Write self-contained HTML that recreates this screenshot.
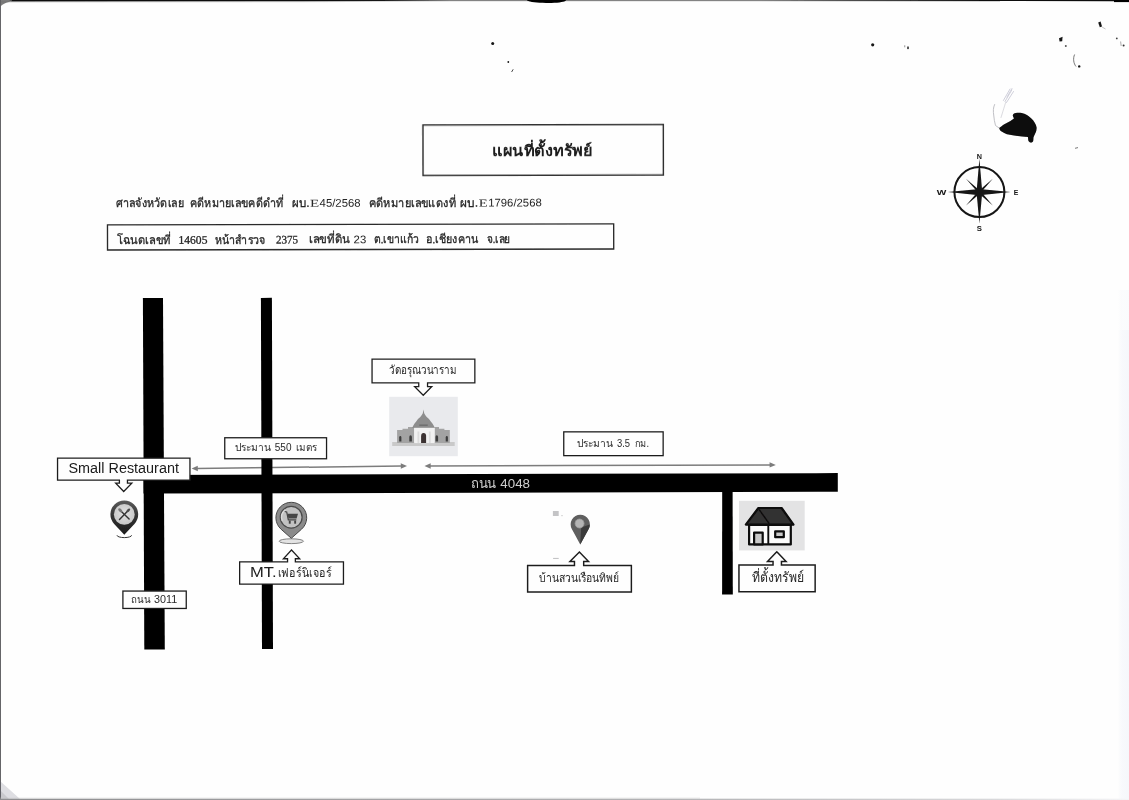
<!DOCTYPE html>
<html lang="th">
<head>
<meta charset="utf-8">
<title>แผนที่ตั้งทรัพย์</title>
<style>
html,body{margin:0;padding:0}
body{width:1129px;height:800px;overflow:hidden;background:#fefefe;font-family:"Liberation Sans",sans-serif;position:relative}
svg{position:absolute;left:0;top:0;display:block}
text{font-family:"Liberation Sans",sans-serif}
.serif{font-family:"Liberation Serif",serif}
</style>
</head>
<body>
<svg width="1129" height="800" viewBox="0 0 1129 800">
<defs><filter id="soft" x="0" y="0" width="1129" height="800" filterUnits="userSpaceOnUse"><feGaussianBlur stdDeviation="0.55"/></filter></defs>
<g filter="url(#soft)">
<g transform="translate(191.6 468.6) rotate(-0.718)" fill="#7c7c7c" stroke="none"><rect x="5.2" y="-0.75" width="205.01692134091977" height="1.5"/><path d="M215.41692134091974 0L209.21692134091975 -2.7V2.7Z"/><path d="M0 0L6.2 -2.7V2.7Z"/></g><g transform="translate(424.5 466.0) rotate(-0.179)" fill="#7c7c7c" stroke="none"><rect x="5.2" y="-0.75" width="340.9017221705581" height="1.5"/><path d="M351.3017221705581 0L345.1017221705581 -2.7V2.7Z"/><path d="M0 0L6.2 -2.7V2.7Z"/></g>
<g fill="#030303">
<path d="M142.9 298.1L163 298L164.8 649.5L144.3 649.6Z"/>
<path d="M260.9 297.9L271.9 297.8L273 649L262 649.1Z"/>
<path d="M143.5 475L837.8 473.1V491.8L143.5 493.6Z"/>
<path d="M722.2 485H732.6L732.8 594.5H722.1Z"/>
</g>
<g transform="rotate(-0.12 543.2 150)">
<rect x="423" y="124.74" width="240.35" height="50.52" fill="none" stroke="#2a2a2a" stroke-width="1.4"/>
<text x="492.40" y="155.60" font-size="15.5" font-weight="bold" textLength="100.00" lengthAdjust="spacingAndGlyphs" class="serif" fill="#1c1c1c">แผนที่ตั้งทรัพย์</text>
</g>
<g transform="rotate(-0.12 360.6 237)">
<rect x="107.5" y="224.4" width="506.2" height="25.1" fill="none" stroke="#2a2a2a" stroke-width="1.35"/>
<text x="117.40" y="243.30" font-size="12" textLength="53.10" lengthAdjust="spacingAndGlyphs" class="serif" fill="#262626" stroke="#262626" stroke-width=".3">โฉนดเลขที่</text>
<text x="178.50" y="243.30" font-size="11.6" textLength="28.90" lengthAdjust="spacingAndGlyphs" class="serif" fill="#262626"  stroke="#262626" stroke-width=".3">14605</text>
<text x="214.80" y="243.30" font-size="12" textLength="50.50" lengthAdjust="spacingAndGlyphs" class="serif" fill="#262626" stroke="#262626" stroke-width=".3">หน้าสำรวจ</text>
<text x="275.90" y="243.30" font-size="11.6" textLength="22.20" lengthAdjust="spacingAndGlyphs" class="serif" fill="#262626"  stroke="#262626" stroke-width=".3">2375</text>
<text x="308.80" y="243.30" font-size="12" textLength="41.00" lengthAdjust="spacingAndGlyphs" class="serif" fill="#262626" stroke="#262626" stroke-width=".3">เลขที่ดิน</text>
<text x="353.60" y="243.30" font-size="11" textLength="12.65" lengthAdjust="spacingAndGlyphs" fill="#262626" >23</text>
<text x="373.70" y="243.30" font-size="12" textLength="45.20" lengthAdjust="spacingAndGlyphs" class="serif" fill="#262626" stroke="#262626" stroke-width=".3">ต.เขาแก้ว</text>
<text x="426.30" y="243.30" font-size="12" textLength="52.00" lengthAdjust="spacingAndGlyphs" class="serif" fill="#262626" stroke="#262626" stroke-width=".3">อ.เชียงคาน</text>
<text x="486.70" y="243.30" font-size="12" textLength="23.70" lengthAdjust="spacingAndGlyphs" class="serif" fill="#262626" stroke="#262626" stroke-width=".3">จ.เลย</text>
</g>
<g transform="rotate(-0.12 329 206.8)">
<text x="115.60" y="206.80" font-size="12" textLength="68.20" lengthAdjust="spacingAndGlyphs" class="serif" fill="#262626" stroke="#262626" stroke-width=".3">ศาลจังหวัดเลย</text>
<text x="190.00" y="206.80" font-size="12" textLength="93.50" lengthAdjust="spacingAndGlyphs" class="serif" fill="#262626" stroke="#262626" stroke-width=".3">คดีหมายเลขคดีดำที่</text>
<text x="292.10" y="206.80" font-size="12" textLength="17.30" lengthAdjust="spacingAndGlyphs" class="serif" fill="#262626" stroke="#262626" stroke-width=".3">ผบ.</text>
<text x="310.10" y="206.80" font-size="10.5" textLength="9.20" lengthAdjust="spacingAndGlyphs" class="serif" fill="#262626" >E</text>
<text x="319.60" y="206.80" font-size="11.2" textLength="41.00" lengthAdjust="spacingAndGlyphs" fill="#262626" >45/2568</text>
<text x="368.75" y="206.80" font-size="12" textLength="87.10" lengthAdjust="spacingAndGlyphs" class="serif" fill="#262626" stroke="#262626" stroke-width=".3">คดีหมายเลขแดงที่</text>
<text x="460.20" y="206.80" font-size="12" textLength="17.80" lengthAdjust="spacingAndGlyphs" class="serif" fill="#262626" stroke="#262626" stroke-width=".3">ผบ.</text>
<text x="478.80" y="206.80" font-size="10.5" textLength="9.00" lengthAdjust="spacingAndGlyphs" class="serif" fill="#262626" >E</text>
<text x="488.20" y="206.80" font-size="11.2" textLength="53.60" lengthAdjust="spacingAndGlyphs" fill="#262626" >1796/2568</text>
</g>
<text x="470.90" y="487.70" font-size="13.6" textLength="25.20" lengthAdjust="spacingAndGlyphs" fill="#cfcfcf">ถนน</text>
<text x="500.30" y="487.70" font-size="13.6" textLength="29.70" lengthAdjust="spacingAndGlyphs" fill="#cfcfcf" >4048</text>
<path d="M57.55 458.15H189.95V480.05H127.44999999999999V483.1H131.79999999999998L123.7 491.525L115.7 483.1H119.4V480.05H57.55Z" fill="#fefefe" stroke="#1e1e1e" stroke-width="1.3" stroke-linejoin="miter"/>
<text x="68.50" y="472.75" font-size="14.9" textLength="110.40" lengthAdjust="spacingAndGlyphs" fill="#1a1a1a" >Small Restaurant</text>
<path d="M372.04999999999995 359.15H474.85V382.85H427.55V386.7H431.7L423.25 395.22499999999997L414.7 386.7H418.75V382.85H372.04999999999995Z" fill="#fefefe" stroke="#1e1e1e" stroke-width="1.3" stroke-linejoin="miter"/>
<text x="388.90" y="373.90" font-size="12" textLength="67.50" lengthAdjust="spacingAndGlyphs" fill="#262626">วัดอรุณวนาราม</text>
<rect x="122.90" y="591.05" width="63.35" height="17.40" fill="#fefefe" stroke="#1e1e1e" stroke-width="1.3"/>
<text x="131.25" y="602.75" font-size="10" textLength="19.40" lengthAdjust="spacingAndGlyphs" fill="#2a2a2a">ถนน</text>
<text x="154.00" y="602.75" font-size="10" textLength="23.20" lengthAdjust="spacingAndGlyphs" fill="#2a2a2a" >3011</text>
<rect x="224.75" y="437.75" width="101.80" height="21.00" fill="#fefefe" stroke="#1e1e1e" stroke-width="1.3"/>
<text x="234.80" y="451.30" font-size="10" textLength="36.70" lengthAdjust="spacingAndGlyphs" fill="#2a2a2a">ประมาน</text>
<text x="274.80" y="451.30" font-size="10" textLength="16.70" lengthAdjust="spacingAndGlyphs" fill="#2a2a2a" >550</text>
<text x="295.90" y="451.30" font-size="10" textLength="20.70" lengthAdjust="spacingAndGlyphs" fill="#2a2a2a">เมตร</text>
<rect x="563.75" y="431.85" width="99.40" height="23.80" fill="#fefefe" stroke="#1e1e1e" stroke-width="1.3"/>
<text x="576.60" y="446.70" font-size="10" textLength="36.80" lengthAdjust="spacingAndGlyphs" fill="#2a2a2a">ประมาน</text>
<text x="617.00" y="446.70" font-size="10" textLength="13.10" lengthAdjust="spacingAndGlyphs" fill="#2a2a2a" >3.5</text>
<text x="634.50" y="446.70" font-size="10" textLength="14.60" lengthAdjust="spacingAndGlyphs" fill="#2a2a2a">กม.</text>
<path d="M239.65 561.9H287.54999999999995V558.75H283.40000000000003L291.5 549.975L299.7 558.75H295.35V561.9H343.45000000000005V584.1H239.65Z" fill="#fefefe" stroke="#1e1e1e" stroke-width="1.3" stroke-linejoin="miter"/>
<text x="249.90" y="577.25" font-size="15" textLength="26.70" lengthAdjust="spacingAndGlyphs" fill="#1a1a1a" >MT.</text>
<text x="277.75" y="577.25" font-size="12.5" textLength="53.80" lengthAdjust="spacingAndGlyphs" fill="#262626">เฟอร์นิเจอร์</text>
<path d="M527.625 565.475H574.475V561.5H569.95L579.4 552.0875L588.55 561.5H583.675V565.475H631.375V592.025H527.625Z" fill="#fefefe" stroke="#1e1e1e" stroke-width="1.45" stroke-linejoin="miter"/>
<text x="538.75" y="581.90" font-size="12" textLength="80.30" lengthAdjust="spacingAndGlyphs" fill="#262626">บ้านสวนเรือนทิพย์</text>
<path d="M738.95 565.05H773.05V561.6H767.5L776.8 551.725L786.1 561.6H781.45V565.05H815.15V591.75H738.95Z" fill="#fefefe" stroke="#1e1e1e" stroke-width="1.5" stroke-linejoin="miter"/>
<text x="752.20" y="581.90" font-size="14" textLength="51.50" lengthAdjust="spacingAndGlyphs" fill="#262626">ที่ตั้งทรัพย์</text>
<defs><linearGradient id="gp1" x1="0" y1="0" x2="0" y2="1"><stop offset="0" stop-color="#5c5c5c"/><stop offset=".45" stop-color="#333"/><stop offset="1" stop-color="#1c1c1c"/></linearGradient><radialGradient id="gp1i" cx=".5" cy=".45" r=".6"><stop offset="0" stop-color="#e2e2e2"/><stop offset="1" stop-color="#c4c4c4"/></radialGradient></defs>
<path d="M117.0 535.3000000000001A7.3 2.3 0 0 0 131.6 535.3000000000001" fill="none" stroke="#333" stroke-width="1"/>
<path d="M124.30 534.70L134.43 523.92A13.9 13.9 0 1 0 114.17 523.92Z" fill="url(#gp1)"/>
<circle cx="124.3" cy="514.4" r="10.4" fill="url(#gp1i)"/>
<g stroke="#333" stroke-width="1.2" stroke-linecap="round" fill="#555"><path d="M119.5 519.5L128.2 510.59999999999997M129.1 518.9L120.1 510.29999999999995" fill="none" stroke-width="1.45"/><ellipse cx="128.3" cy="510.4" rx="1.3" ry="2.3" transform="rotate(45 128.3 510.4)" stroke="none" fill="#4a4a4a"/><ellipse cx="120.2" cy="510.29999999999995" rx="1.5" ry="2.4" transform="rotate(-45 120.2 510.29999999999995)" stroke="none" fill="#777"/></g>
<ellipse cx="291.3" cy="541.2" rx="12.2" ry="2.4" fill="#e3e3e3" stroke="#777" stroke-width=".9"/>
<path d="M291.30 538.30L301.53 529.21A15.4 15.4 0 1 0 281.07 529.21Z" fill="#8b8b8b" stroke="#484848" stroke-width="1"/>
<circle cx="291.2" cy="517.2" r="10.9" fill="#c2c2c2" stroke="#4a4a4a" stroke-width="1.2"/>
<path d="M282.3 520.7A9.6 9.6 0 0 1 285.3 509.70000000000005" fill="none" stroke="#dcdcdc" stroke-width="1.4"/>
<g fill="#454545"><path d="M287.4 513.7H298L296.6 518.5H288.5Z"/><path d="M284.8 510.9L287.2 511.4L288.9 519.3H296.3V520.6H287.8L286.2 512.5L284.6 512.1Z"/><rect x="288.8" y="520.6" width="1.9" height="3.1"/><rect x="294.2" y="520.6" width="1.9" height="3.1"/></g>
<path d="M580.25 544.40L588.67 529.01A9.6 9.6 0 1 0 571.83 529.01Z" fill="#5e5e5e"/>
<path d="M580.25 544.4L588.65 529.1A9.6 9.6 0 0 0 589.85 524.4L581.25 527.4Z" fill="#3a3a3a"/>
<circle cx="579.55" cy="523.5" r="4.5" fill="#b4b4b4" stroke="#9a9a9a" stroke-width=".8"/>
<rect x="552.9" y="511" width="5.8" height="5" fill="#c4c4c6"/><rect x="561.4" y="515" width="1.2" height="1.2" fill="#c8c8c8"/>
<rect x="553.1" y="557.9" width="5.6" height="1.1" fill="#c4c4c6"/>
<rect x="389.2" y="396.8" width="68.6" height="59.4" fill="#e9eaed"/>
<g><path d="M392.2 442H454.7V446H392.2Z" fill="#c9c9c9"/><path d="M397.1 430H402.5V428.8H408V427H414.2V443.1H397.1Z" fill="#a3a3a3"/><path d="M449.8 430H444.4V428.8H439V427H434.6V443.1H449.8Z" fill="#a3a3a3"/><path d="M423.5 409.6L424.2 413.2C425.2 415 426 416 426.7 417C428.4 418.3 429.8 419.8 430.8 421.5C432.2 423 433.2 424.5 433.9 426L434.9 427.9H412.1L413.1 426C413.8 424.5 414.8 423 416.2 421.5C417.2 419.8 418.6 418.3 420.3 417C421 416 421.8 415 422.8 413.2Z" fill="#8d8d8d"/><rect x="419.3" y="424.4" width="8.4" height="1.6" fill="#6f6f6f"/><path d="M414.2 427.8H434.6V443.1H414.2Z" fill="#f1f1f1"/><path d="M417.5 431.5H419.3V443.1H417.5ZM428.9 431.5H430.7V443.1H428.9Z" fill="#dcdcdc"/><path d="M421.1 443.1V436A2.5 3 0 0 1 426.1 436V443.1Z" fill="#3a3030"/><g fill="#3c3c3c"><path d="M399.2 441.4V437.6A1.1 1.5 0 0 1 401.4 437.6V441.4Z"/><path d="M409.3 441.4V437A1.3 1.7 0 0 1 411.9 437V441.4Z"/><path d="M435.5 441.4V437A1.3 1.7 0 0 1 438.1 437V441.4Z"/><path d="M445.7 441.4V437.6A1.1 1.5 0 0 1 447.9 437.6V441.4Z"/></g></g>
<rect x="739" y="500.8" width="65.7" height="49.6" fill="#e3e3e4"/>
<g stroke-linejoin="round"><rect x="749.1" y="525" width="41.7" height="19.4" fill="#fbfbfb" stroke="#0c0c0c" stroke-width="2.2"/><path d="M768.3 525V545" stroke="#0c0c0c" stroke-width="1.9"/><rect x="754.1" y="532.6" width="8.6" height="11.8" fill="#c9c9c9" stroke="#0c0c0c" stroke-width="2.2"/><rect x="775.2" y="531.3" width="8.6" height="5.9" fill="#c9c9c9" stroke="#0c0c0c" stroke-width="2.2"/><path d="M758.4 508H781.6L793.5 524.6H745.8Z" fill="#333031" stroke="#0c0c0c" stroke-width="2.2"/><path d="M759 509.3L769.2 523.6" stroke="#0c0c0c" stroke-width="1.4"/></g>
<g transform="translate(979.4 192.1)" fill="#141414"><circle r="25" fill="none" stroke="#141414" stroke-width="2"/><path d="M0 -33.4L2.6 -2.9L31.2 0L2.6 2.9L0 31.5L-2.6 2.9L-31.5 0L-2.6 -2.9Z"/><path d="M13.4 -13.4L1.9 0L13.4 13.4L0 1.9L-13.4 13.4L-1.9 0L-13.4 -13.4L0 -1.9Z"/><circle r="3.1"/><g font-size="7.6" font-weight="bold"><text x="-2.6" y="-33.1" textLength="5.2" lengthAdjust="spacingAndGlyphs" fill="#141414">N</text><text x="-2.6" y="39.3" textLength="5.2" lengthAdjust="spacingAndGlyphs" fill="#141414">S</text><text x="34.3" y="2.6" textLength="4.6" lengthAdjust="spacingAndGlyphs" fill="#141414">E</text><text x="-42.6" y="2.6" textLength="9.6" lengthAdjust="spacingAndGlyphs" fill="#141414">W</text></g></g>
<path d="M999 127.9L1003.8 124.6L1010.4 121.1L1013.9 118.5C1013.4 117 1012.6 116 1012.8 115C1013.4 113.8 1014.5 113.3 1015.6 113.1C1017.6 112.8 1019.7 112.7 1021.7 113.1C1023.6 113.4 1025.4 114 1027 115C1028.7 116 1030.2 117.2 1031.4 118.5C1032.8 119.8 1034 121.3 1034.9 122.9C1035.7 124.2 1036.3 125.7 1036.6 127.2C1036.8 129 1036.4 130.8 1035.7 132.5L1033.6 136.9C1033.3 138.3 1033.6 139.8 1033.1 141.2C1032.6 142.3 1031.5 142.8 1030.5 142.6C1029.4 142.3 1028.7 141.4 1028.3 140.4L1027.9 136.9L1021.7 136.4L1013.9 135.6L1006.9 134.2C1005 133.5 1003.2 132.7 1001.6 131.6C1000.4 130.6 999.4 129.4 999 127.9Z" fill="#080808"/>
<g fill="none" stroke-linecap="round"><path d="M994.6 104.5C993 108 993.2 111.5 993.7 115C994 118.8 994.6 122.4 995.5 125.5L999 127.9" stroke="#b9b9be" stroke-width=".9"/><path d="M1005.8 102L1001 117.5" stroke="#d2d2d8" stroke-width=".8"/><path d="M1003.4 100.5L1010 89M1005 101.5L1011.8 90M1006.5 102.5L1013.5 91.5M1007 97L1012 88.5" stroke="#cfcfda" stroke-width="1"/></g>
<g fill="#161616"><circle cx="492.7" cy="43.6" r="1.5"/><circle cx="508.3" cy="62" r=".9"/><path d="M513.2 69.3L511.6 72" stroke="#333" stroke-width=".9"/><circle cx="872.7" cy="44.8" r="1.6"/><rect x="904.4" y="45.3" width=".8" height="2" fill="#777"/><rect x="907.3" y="46.5" width="1.4" height="2.6"/><path d="M1059 38.2L1062.6 36.8L1062.2 41.2L1059.6 41.5Z"/><circle cx="1065.8" cy="46" r="1" fill="#555"/><path d="M1098.2 22.6L1100.6 21.6L1102 26.4L1099.8 27.2Z"/><path d="M1102 27L1105.5 29" stroke="#aaa" stroke-width=".7"/><circle cx="1116.8" cy="38.4" r=".9" fill="#444"/><circle cx="1123.6" cy="45.6" r="1" fill="#333"/><path d="M1120.6 41.5L1121.2 46" stroke="#888" stroke-width=".7"/><path d="M1074.6 54.5C1072.8 58.5 1073.6 63.5 1076 66.5" fill="none" stroke="#555" stroke-width=".8"/><circle cx="1079.2" cy="66.4" r="1.2"/><path d="M1075 148.3L1078 147.6" stroke="#555" stroke-width=".8"/></g>
<defs><linearGradient id="gr" x1="0" y1="0" x2="1" y2="0"><stop offset="0" stop-color="#f3f5fa" stop-opacity="0"/><stop offset=".35" stop-color="#f3f5fa"/><stop offset="1" stop-color="#eff2f8"/></linearGradient></defs>
<rect x="1118" y="330" width="11" height="470" fill="url(#gr)" opacity=".6"/><rect x="1118" y="290" width="11" height="40" fill="url(#gr)" opacity=".3"/>
<defs><linearGradient id="gb" x1="0" y1="0" x2="1" y2="0"><stop offset="0" stop-color="#8e8e90"/><stop offset=".6" stop-color="#b4b4b6"/><stop offset=".88" stop-color="#d8d8da"/><stop offset="1" stop-color="#f4f4f6"/></linearGradient></defs>
<path d="M7 -1H1130V2.1H1114V1.15L1000 1.1L850 0.8L760 0.55L450 0.6L380 0.9L300 1.2L12 1.45Z" fill="#0e0e0e"/><path d="M0 1.2L300 1.1L450 0.6H760L1000 1V2L760 1.5H450L300 2.2L0 2.5Z" fill="#777" opacity=".3"/><path d="M0 -1H12V1.4C6 2 2.5 4 0 7Z" fill="#5a5a5a" opacity=".8"/><path d="M527 -1V0.6C530 2.4 537 2.9 546 3C556 3.1 563 2.6 566 0.6V-1Z" fill="#060606"/><rect x="1114" y="-1" width="16" height="3.1" fill="#060606"/><path d="M0 781L20 799H0Z" fill="#dedee2"/><path d="M0 790L9 799H0Z" fill="#c9c9cd"/><rect x="-1" y="0" width="1.95" height="800" fill="#5e5e62"/><rect x="0" y="798.7" width="1129" height="2.3" fill="url(#gb)"/><rect x="0" y="797.5" width="700" height="1.2" fill="#c8c8ca" opacity=".35"/>
</g>
</svg>
</body>
</html>
